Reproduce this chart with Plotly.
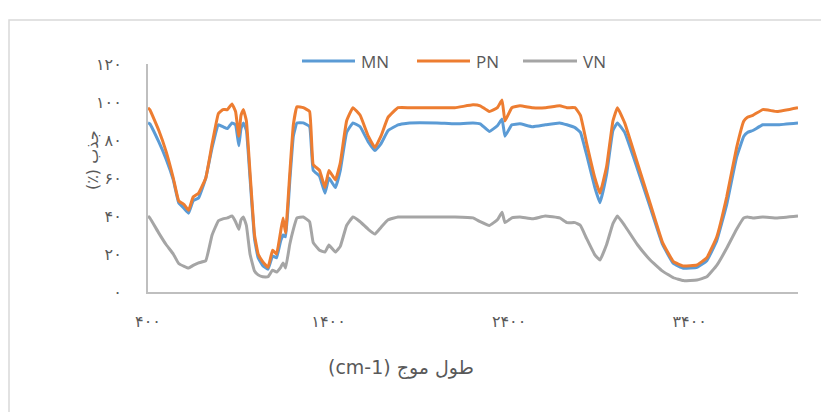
import plotly.graph_objects as go

wavenumber = [400, 410, 460, 500, 540, 570, 600, 625, 650, 680, 720, 755, 790, 815, 840, 865, 885, 903, 915, 928,
              945, 965, 990, 1010, 1035, 1065, 1090, 1112, 1135, 1148, 1162, 1185, 1205, 1225, 1260, 1295, 1315, 1350,
              1380, 1402, 1438, 1465, 1500, 1535, 1575, 1620, 1657, 1690, 1730, 1785, 1850, 2000, 2100, 2200, 2240,
              2290, 2335, 2361, 2377, 2415, 2460, 2530, 2600, 2680, 2720, 2765, 2795, 2830, 2875, 2903, 2940, 2975,
              3000, 3040, 3110, 3180, 3250, 3310, 3365, 3440, 3495, 3550, 3605, 3660, 3700, 3720, 3750, 3805, 3885, 4000]

MN = [89, 88.5, 79, 70, 59, 47, 44, 41.5, 48, 49.5, 60, 76, 88, 87, 86, 89, 88, 77, 86, 89,
      85, 60, 28, 18, 14, 12, 19, 18, 27, 30, 29, 58, 82, 89, 89, 87, 64, 61,
      52, 60, 55, 64, 84, 89, 87, 79, 74.5, 78, 85, 88, 89, 89, 88.5, 89, 88.5,
      84.5, 87.5, 91, 82, 88, 88.5, 87, 88, 89, 88, 86.5, 84, 72, 55, 47, 62, 85,
      89, 84, 65, 45, 25, 15, 12.5, 13, 16.5, 27, 46, 71, 82, 84, 85, 88, 88, 89]

PN = [97, 96, 85, 74, 60, 48, 46, 43, 50, 52, 60, 78, 94, 96, 96, 99, 95, 82, 93, 96,
      90, 63, 30, 20, 16, 13, 22, 20, 32, 39, 31, 62, 88, 97.5, 97, 95, 67, 64,
      55, 64, 59, 68, 90, 97, 93, 82, 76, 82, 92, 97, 97, 97, 97, 98.5, 98,
      95, 97, 101, 90, 97, 98, 97, 97, 98, 97, 97, 93, 78, 60, 52, 66, 90,
      97, 89, 68, 47, 26, 16, 13.7, 14.2, 18, 29, 50, 76, 90, 92, 93, 96, 95, 97]

VN = [40, 39, 31, 25, 20, 15, 13.5, 12.6, 14, 15.3, 16.5, 30, 37.5, 38.5, 39, 40, 37, 33, 38, 39.5,
      35, 20, 11, 9, 8, 8, 11.5, 10.5, 13, 15.3, 12.6, 25, 33, 39, 39.5, 37, 26, 22,
      21, 24.7, 21, 24, 35, 39.5, 37, 33, 30.5, 34, 38, 39.5, 39.5, 39.5, 39.5, 39, 37,
      35, 38, 42, 36.5, 39, 39.5, 38.5, 40, 39, 36.5, 36.5, 35, 28, 19.5, 16.8, 25, 36,
      40, 35, 25, 17, 11, 7.5, 6, 6.3, 8, 14, 23, 33, 39, 39.5, 39, 39.5, 39, 40]

series_names = ["MN", "PN", "VN"]
series_colors = ["#5B9BD5", "#ED7D31", "#A5A5A5"]

y_tickvals = [0, 20, 40, 60, 80, 100, 120]
y_ticktext = ["۰", "۲۰", "۴۰", "۶۰", "۸۰", "۱۰۰", "۱۲۰"]
x_tickvals = [400, 1400, 2400, 3400]
x_ticktext = ["۴۰۰", "۱۴۰۰", "۲۴۰۰", "۳۴۰۰"]

x_title = "(cm-1) طول موج"
y_title = "(٪) جذب"

# page has an 8px body margin; figure coords = page coords - 8
OFF = 8
W, H = 821, 404
L, R, T, B = 148 - OFF, 31, 64 - OFF, 120
pw, ph = W - L - R, H - T - B


def px(xp):
    return (xp - OFF - L) / pw


def py(yp):
    return (H - B - (yp - OFF)) / ph


fig = go.Figure()
for name, vals, col in zip(series_names, [MN, PN, VN], series_colors):
    fig.add_trace(go.Scatter(x=wavenumber, y=vals, mode="lines", name=name, showlegend=False,
                             line=dict(color=col, width=3, shape="spline", smoothing=0.3)))

# legend drawn manually (line sample + label), Excel-style
legend_line_x = [(302, 355), (417, 470), (523, 577)]
legend_y = 61
shapes = [dict(type="rect", xref="paper", yref="paper",
               x0=px(9), x1=px(W + 40), y0=py(H + 40), y1=py(20),
               line=dict(color="#D9D9D9", width=1.5), fillcolor="rgba(0,0,0,0)", layer="below")]
annotations = []
for (x0, x1), name, col in zip(legend_line_x, series_names, series_colors):
    shapes.append(dict(type="line", xref="paper", yref="paper",
                       x0=px(x0), x1=px(x1), y0=py(legend_y), y1=py(legend_y),
                       line=dict(color=col, width=3)))
    annotations.append(dict(text=name, xref="paper", yref="paper", x=px(x1 + 4), y=py(legend_y),
                            xanchor="left", yanchor="middle", showarrow=False,
                            font=dict(family="Open Sans", size=17, color="#595959")))

annotations += [
    dict(text=x_title, xref="paper", yref="paper", x=px(401), y=py(367),
         xanchor="center", yanchor="middle", showarrow=False,
         font=dict(family="DejaVu Sans", size=19, color="#595959")),
    dict(text=y_title, xref="paper", yref="paper", x=px(92), y=py(160),
         xanchor="center", yanchor="middle", showarrow=False, textangle=-90,
         font=dict(family="DejaVu Sans", size=16, color="#595959")),
]

fig.update_layout(
    width=W, height=H,
    margin=dict(l=L, r=R, t=T, b=B, pad=0),
    paper_bgcolor="white", plot_bgcolor="white",
    font=dict(family="DejaVu Sans", color="#595959"),
    showlegend=False,
    xaxis=dict(range=[400, 4000], tickvals=x_tickvals, ticktext=x_ticktext,
               showgrid=False, zeroline=False, showline=True, linecolor="#BFBFBF", linewidth=2,
               ticks="", ticklabelstandoff=14, automargin=False,
               tickfont=dict(size=16, color="#595959")),
    yaxis=dict(range=[0, 120], tickvals=y_tickvals, ticktext=y_ticktext,
               showgrid=False, zeroline=False, showline=True, linecolor="#BFBFBF", linewidth=2,
               ticks="", ticklabelstandoff=21, automargin=False,
               tickfont=dict(size=16, color="#595959")),
    shapes=shapes,
    annotations=annotations,
)

fig.write_html("out.html")
